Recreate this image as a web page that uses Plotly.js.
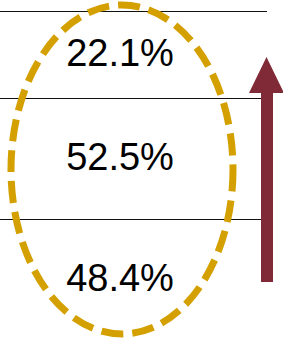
<!DOCTYPE html>
<html>
<head>
<meta charset="utf-8">
<script src="https://cdn.plot.ly/plotly-3.0.1.min.js"></script>
<style>html,body{margin:0;padding:0;background:#fff}#chart{width:283px;height:338px}</style>
</head>
<body>
<div id="chart"></div>
<script>
// Data
const rowNames = ['row1', 'row2', 'row3'];
const values = [22.1, 52.5, 48.4];
const labels = values.map(v => v.toFixed(1) + '%');

// Layout (pixel-based coordinate frame)
const W = 283, H = 338;
const rowCenters = [56, 160, 281];
const dividers = [11.5, 98.5, 219.5];

const trace = {
  type: 'scatter',
  mode: 'text',
  x: rowNames.map(() => 120),
  y: rowCenters,
  text: labels,
  textposition: 'middle center',
  textfont: {family: 'Liberation Sans, Arial, sans-serif', size: 38, color: '#000'},
  hoverinfo: 'skip',
  showlegend: false
};

const shapes = dividers.map(y => ({
  type: 'line', xref: 'x', yref: 'y', x0: 0, x1: 267, y0: y, y1: y,
  line: {color: '#111', width: 1}
}));
shapes.push({
  type: 'circle', xref: 'x', yref: 'y', x0: 11, x1: 233, y0: 5, y1: 334,
  line: {color: '#D4A000', width: 7, dash: '22px,9px'}
});
shapes.push({
  type: 'path', xref: 'x', yref: 'y',
  path: 'M 261 282 L 261 93 L 249 93 L 266.5 57 L 284 93 L 273 93 L 273 282 Z',
  fillcolor: '#7F2A36', line: {width: 0}
});

const layout = {
  width: W, height: H,
  margin: {l: 0, r: 0, t: 0, b: 0},
  paper_bgcolor: '#fff', plot_bgcolor: '#fff',
  xaxis: {range: [0, W], visible: false, fixedrange: true},
  yaxis: {range: [H, 0], visible: false, fixedrange: true},
  shapes: shapes,
  showlegend: false
};

Plotly.newPlot('chart', [trace], layout, {displayModeBar: false, staticPlot: true});
</script>
</body>
</html>
